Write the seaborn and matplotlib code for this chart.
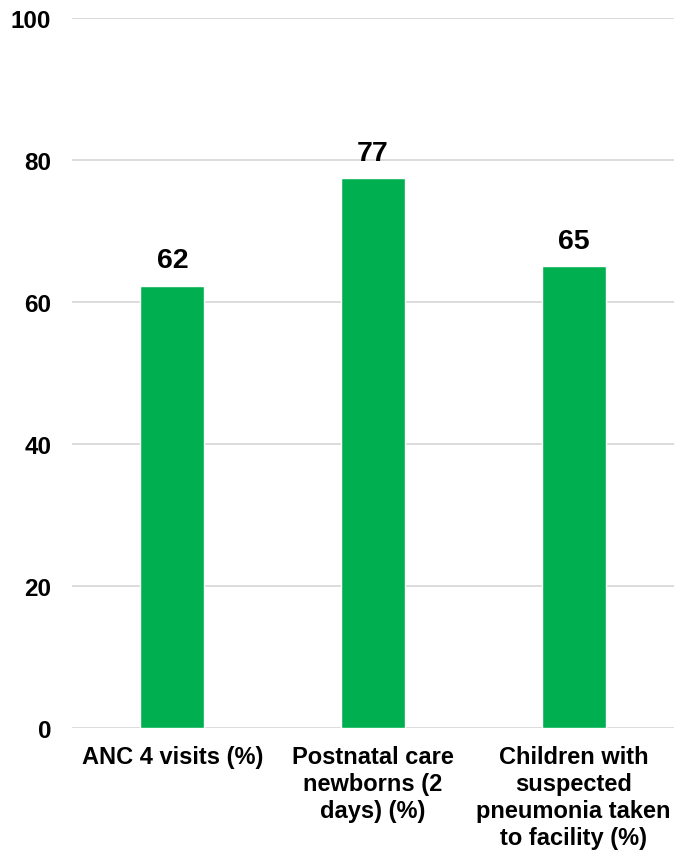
import matplotlib
matplotlib.use("Agg")
import matplotlib.pyplot as plt
import seaborn as sns
import pandas as pd

categories = ["ANC 4 visits (%)",
              "Postnatal care\nnewborns (2\ndays) (%)",
              "Children with\nsuspected\npneumonia taken\nto facility (%)"]
values = [62.3, 77.4, 65.0]
y_ticks = [0, 20, 40, 60, 80, 100]

sns.set_theme(style="white")
plt.rcParams['font.family'] = ['Liberation Sans', 'DejaVu Sans']
plt.rcParams['font.weight'] = 'bold'

df = pd.DataFrame({"cat": categories, "val": values})

fig = plt.figure(figsize=(6.74, 8.54), dpi=100)
ax = fig.add_axes([72/674, 1 - 729/854, 1 - 72/674, (729 - 19)/854])

sns.barplot(data=df, x="cat", y="val", color="#00B050", width=0.32,
            saturation=1, ax=ax, zorder=3)

ax.set_ylim(0, 100)
ax.set_xlim(-0.5, 2.5)
ax.set_yticks(y_ticks)
ax.yaxis.grid(True, color="#d9d9d9", linewidth=1.3, zorder=0)
ax.set_axisbelow(True)
for s in ax.spines.values():
    s.set_visible(False)
ax.set_xlabel("")
ax.set_ylabel("")
ax.tick_params(axis="y", length=0, pad=15, labelsize=17.5)
ax.tick_params(axis="x", length=0, pad=12, labelsize=17)
for lab in ax.get_xticklabels() + ax.get_yticklabels():
    lab.set_fontweight("bold")
    lab.set_color("black")
for lab in ax.get_xticklabels():
    lab.set_linespacing(1.22)

for c in ax.containers:
    ax.bar_label(c, fmt="%.0f", padding=9, fontsize=20.5, fontweight="bold", color="black")

fig.savefig("out.png", dpi=100)
